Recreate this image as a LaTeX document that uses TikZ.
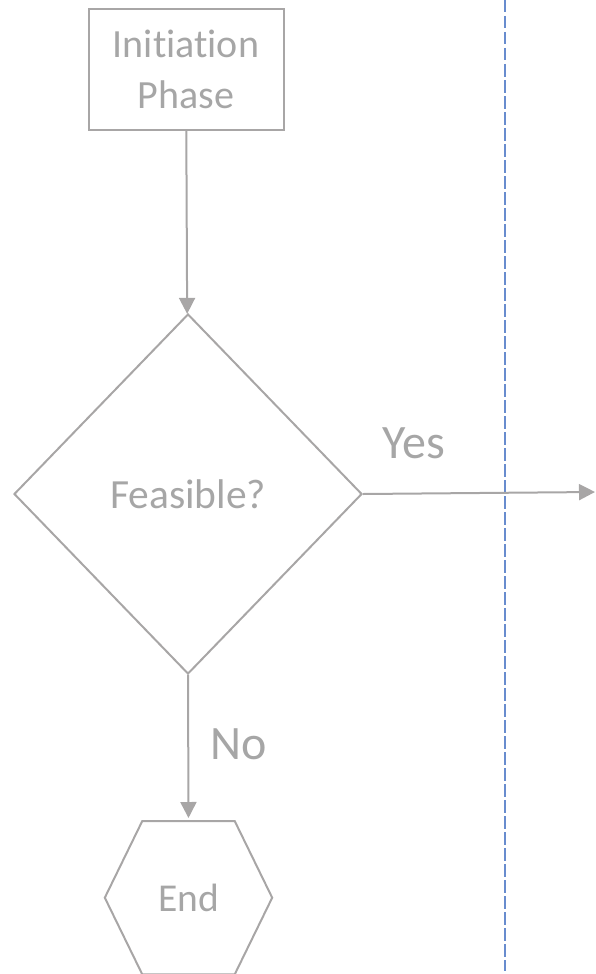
\documentclass[tikz,border=0pt]{standalone}
\usepackage{fontspec}
\setmainfont[Ligatures=NoCommon]{Carlito}
\usetikzlibrary{shapes.geometric}
\usetikzlibrary{positioning}
\usetikzlibrary{arrows.meta}
\definecolor{linegray}{RGB}{168,166,166}
\definecolor{textgray}{RGB}{166,166,166}
\definecolor{divblue}{RGB}{104,140,206}
\tikzstyle{phase} = [rectangle, minimum width=195pt, minimum height=121pt, text centered, align=center, draw=linegray, line width=2pt, text=textgray, font=\fontsize{40}{51}\selectfont]
\tikzstyle{decision} = [diamond, minimum width=348pt, minimum height=360pt, inner sep=0pt, draw=linegray, line width=2pt, text=textgray, font=\fontsize{41.5}{48}\selectfont]
\tikzstyle{stopper} = [rectangle, minimum width=167pt, minimum height=153pt, text=textgray, font=\fontsize{39.5}{46}\selectfont]
\tikzstyle{answer} = [text=textgray, font=\fontsize{48}{52}\selectfont]
\tikzstyle{arrow} = [line width=2pt, draw=linegray, -{Triangle[length=16pt,width=16pt]}]
\tikzstyle{divider} = [draw=divblue, line width=1.3pt, dash pattern=on 12.5pt off 3.5pt]

\begin{document}
\begin{tikzpicture}[x=1pt, y=1pt, node distance=1cm]
        \useasboundingbox (0,0) rectangle (596,-974);
        \node (init) [phase] at (186,-69.5) {Initiation\\ Phase};
        \node (feasible) [decision, below=182pt of init, xshift=2pt] {Feasible?};
        \node (end) [stopper, below=146pt of feasible, xshift=0.5pt] {End};
        \coordinate (exit) at (595,-492);
        \coordinate (divtop) at (505,0);
        \coordinate (divbot) at (505,-971);

        % hexagon round the end node
        \draw [draw=linegray, line width=2pt] (end.west) -- ([xshift=37.5pt]end.north west) -- ([xshift=-37.5pt]end.north east) -- (end.east) -- ([xshift=-37.5pt]end.south east) -- ([xshift=37.5pt]end.south west) -- cycle;

        \draw [divider] (divtop) -- (divbot);
        \draw [arrow] (init) -- (feasible);
        \draw [arrow] (feasible.east) -- node[answer, anchor=base, pos=0.22, yshift=35pt] {Yes} (exit);
        \draw [arrow, shorten >=3pt] (feasible.south) -- node[answer, anchor=base west, pos=0.58, xshift=18pt] {No} (end.north);

    \end{tikzpicture}
\end{document}
